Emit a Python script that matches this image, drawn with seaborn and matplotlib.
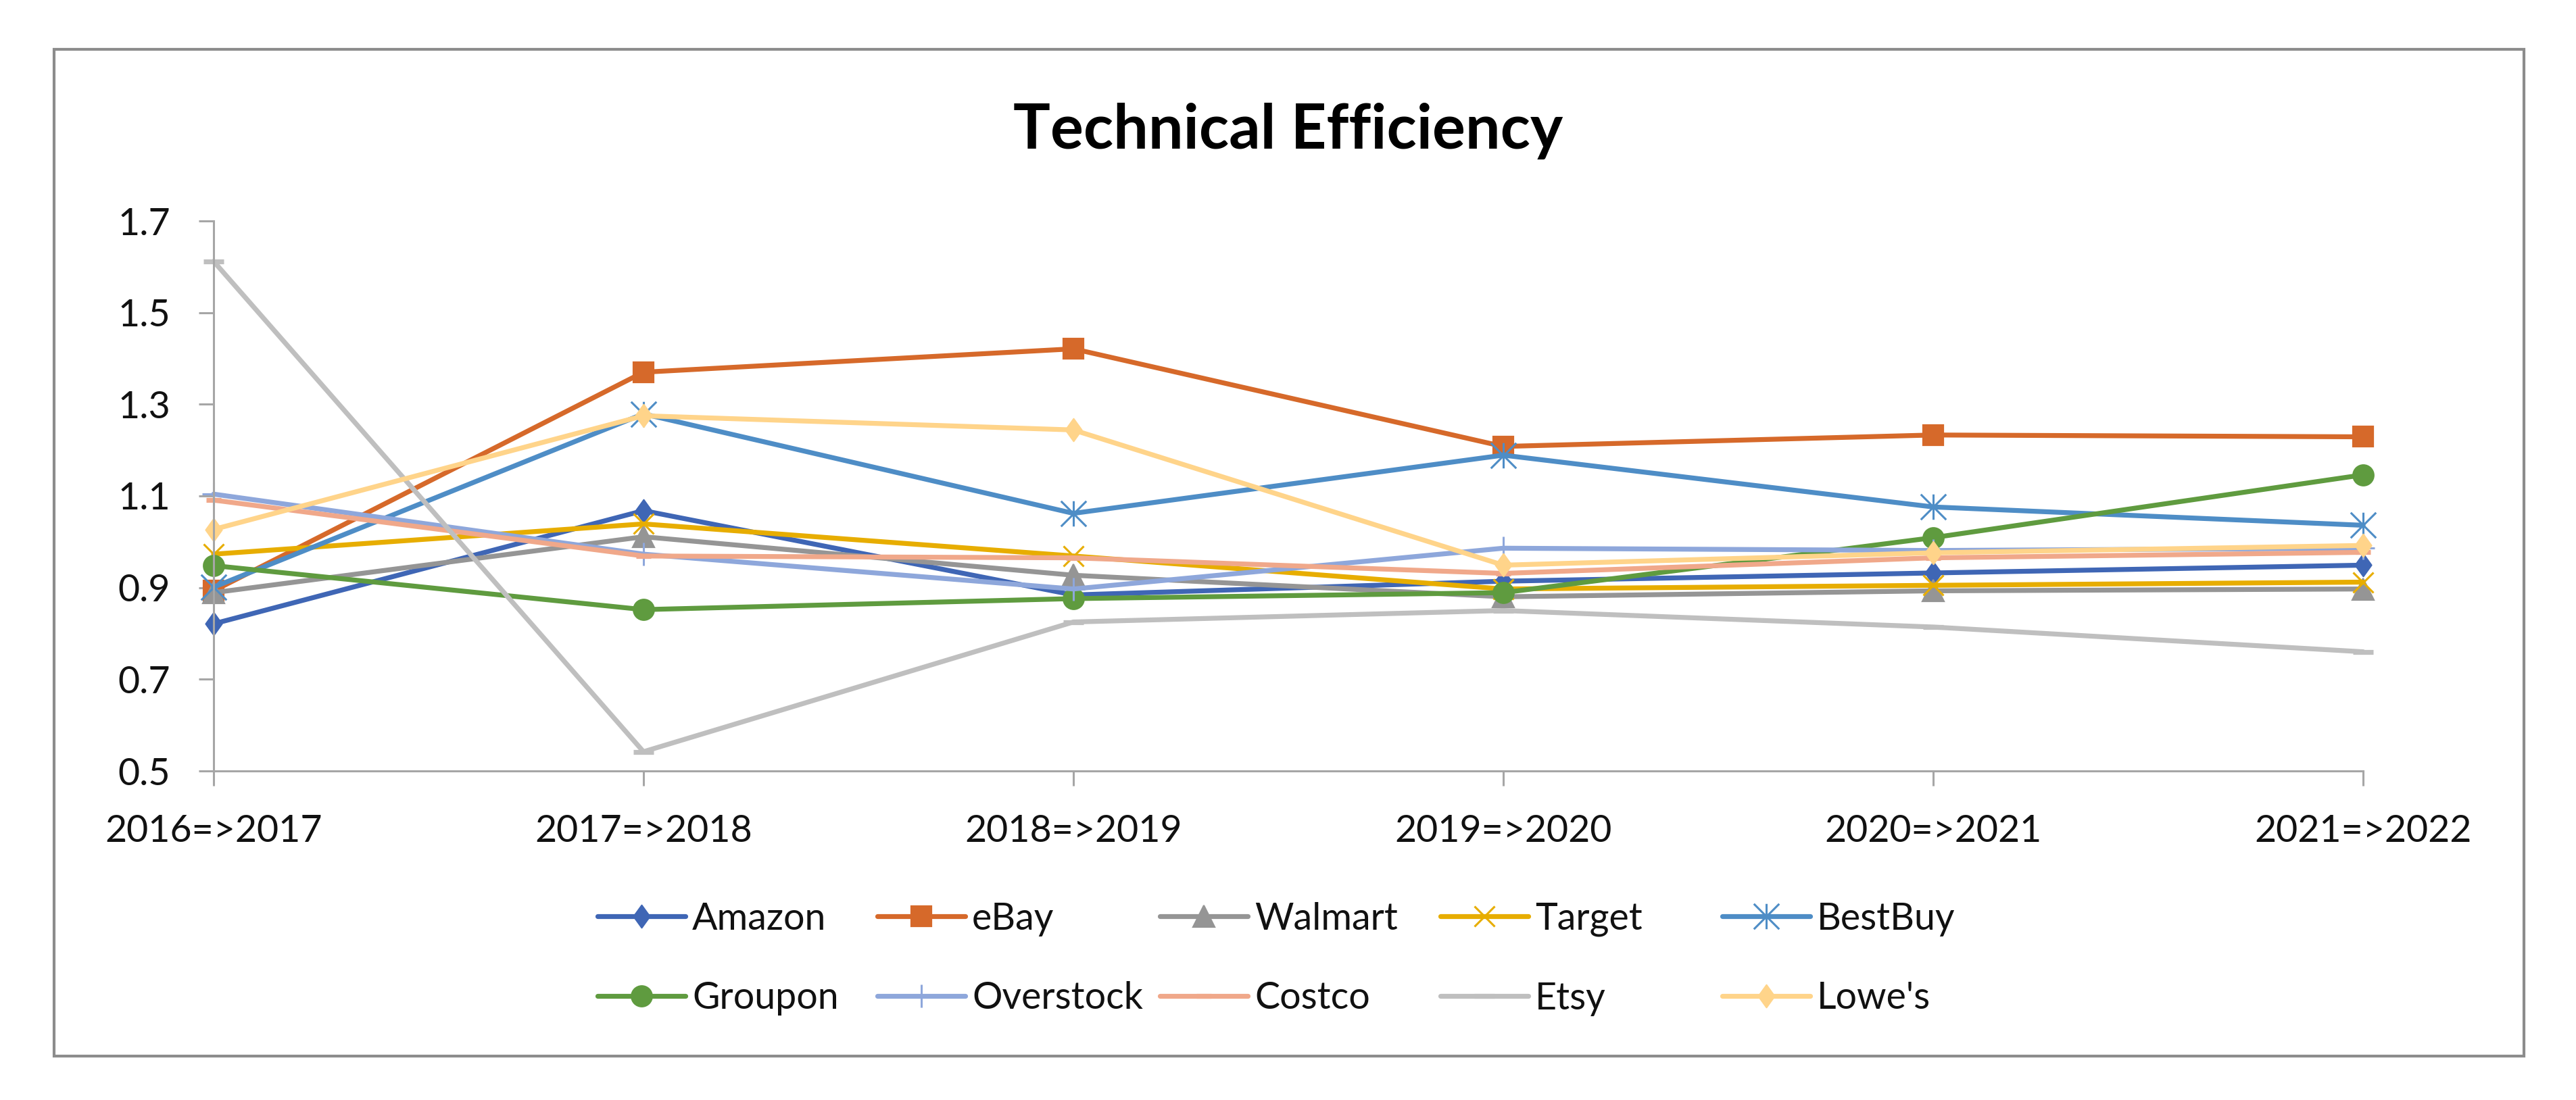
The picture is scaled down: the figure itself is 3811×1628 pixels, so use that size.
import numpy as np
import pandas as pd
import matplotlib
matplotlib.use("Agg")
import matplotlib.pyplot as plt
from matplotlib.path import Path
from matplotlib.patches import Rectangle
import seaborn as sns

# ---------------- data ----------------
periods = ["2016=>2017", "2017=>2018", "2018=>2019", "2019=>2020", "2020=>2021", "2021=>2022"]
companies = ["Amazon", "eBay", "Walmart", "Target", "BestBuy",
             "Groupon", "Overstock", "Costco", "Etsy", "Lowe's"]

amazon    = [0.821, 1.068, 0.884, 0.914, 0.932, 0.949]
ebay      = [0.893, 1.370, 1.421, 1.208, 1.233, 1.229]
walmart   = [0.889, 1.011, 0.927, 0.880, 0.893, 0.897]
target    = [0.973, 1.039, 0.969, 0.897, 0.905, 0.912]
bestbuy   = [0.901, 1.279, 1.062, 1.189, 1.076, 1.036]
groupon   = [0.948, 0.852, 0.876, 0.889, 1.009, 1.146]
overstock = [1.104, 0.973, 0.897, 0.986, 0.981, 0.986]
costco    = [1.091, 0.969, 0.965, 0.931, 0.965, 0.977]
etsy      = [1.612, 0.542, 0.825, 0.850, 0.814, 0.760]
lowes     = [1.027, 1.275, 1.244, 0.949, 0.976, 0.992]

series_values = [amazon, ebay, walmart, target, bestbuy,
                 groupon, overstock, costco, etsy, lowes]

y_ticks = [0.5, 0.7, 0.9, 1.1, 1.3, 1.5, 1.7]
title = "Technical Efficiency"

# ---------------- styles ----------------
colors = ["#3F66B5", "#D6692A", "#959595", "#E7AD00", "#4E8DC6",
          "#5F9B3F", "#8EA7DB", "#F0A88A", "#BFBFBF", "#FFD48A"]

diamond = Path([(0, 1), (0.72, 0), (0, -1), (-0.72, 0), (0, 1)],
               [Path.MOVETO, Path.LINETO, Path.LINETO, Path.LINETO, Path.CLOSEPOLY])
asterisk = Path([(-1, -1), (1, 1), (-1, 1), (1, -1), (0, -1), (0, 1)],
                [Path.MOVETO, Path.LINETO, Path.MOVETO, Path.LINETO, Path.MOVETO, Path.LINETO])

# (marker, size, edge width, filled)
marker_specs = [
    (diamond, 12, 0.8, True),
    ("s", 11, 0.8, True),
    ("^", 11.5, 0.8, True),
    ("x", 11, 1.1, False),
    (asterisk, 13.5, 1.1, False),
    ("o", 11, 0.8, True),
    ("+", 12.5, 1.1, False),
    ("_", 8, 2.6, False),
    ("_", 11, 2.6, False),
    (diamond, 12, 0.8, True),
]

W, H = 3812, 1628
sns.set_theme(style="white")
plt.rcParams["font.family"] = ["Lato", "DejaVu Sans"]

fig = plt.figure(figsize=(W / 200, H / 200), dpi=200)
ax = fig.add_axes([316 / W, 1 - 1141 / H, (3496 - 316) / W, (1141 - 327) / H])

handles = []
for name, vals, col, (mk, ms, mew, filled) in zip(companies, series_values, colors, marker_specs):
    df = pd.DataFrame({"period": periods, "value": vals})
    sns.lineplot(data=df, x="period", y="value", ax=ax, sort=False, errorbar=None,
                 color=col, linewidth=2.6, marker=mk, markersize=ms,
                 markeredgewidth=mew, markeredgecolor=col,
                 markerfacecolor=col if filled else "none",
                 clip_on=False, solid_joinstyle="round", solid_capstyle="round")
    line = ax.lines[-1]
    line.set_label(name)
    handles.append(line)

if ax.get_legend() is not None:
    ax.get_legend().remove()

ax.set_xlim(0, len(periods) - 1)
ax.set_ylim(y_ticks[0], y_ticks[-1])
ax.set_yticks(y_ticks)
ax.set_yticklabels([f"{t:.1f}" for t in y_ticks])
ax.set_xticks(range(len(periods)))
ax.set_xticklabels(periods)
ax.set_xlabel("")
ax.set_ylabel("")
ax.grid(False)

for s in ["top", "right"]:
    ax.spines[s].set_visible(False)
for s in ["left", "bottom"]:
    ax.spines[s].set_color("#a6a6a6")
    ax.spines[s].set_linewidth(1.1)

ax.tick_params(axis="both", direction="out", length=8, width=1.1, color="#a6a6a6",
               labelsize=20, labelcolor="#111111")
ax.tick_params(axis="x", pad=15)
ax.tick_params(axis="y", pad=15)
ax.tick_params(left=True, bottom=True)

# title
fig.text(0.5, 1 - 220 / H, title, ha="center", va="baseline",
         fontsize=33, fontweight="bold", color="#000000")

# legend: five columns of two rows
legend_col_x = [884, 1298, 1716, 2131, 2548]
legend_y = 1 - 1419 / H
for c, x0 in enumerate(legend_col_x):
    hs = [handles[c], handles[c + 5]]
    leg = fig.legend(handles=hs, labels=[h.get_label() for h in hs],
                     loc="center left", bbox_to_anchor=(x0 / W, legend_y),
                     frameon=False, borderpad=0, borderaxespad=0,
                     handlelength=2.34, handletextpad=0.18, labelspacing=1.2,
                     fontsize=20, numpoints=1)
    for t in leg.get_texts():
        t.set_color("#111111")

# outer chart border
fig.add_artist(Rectangle((80 / W, 1 - 1563 / H), (3734 - 80) / W, (1563 - 73) / H,
                         transform=fig.transFigure, fill=False,
                         edgecolor="#8c8c8c", linewidth=1.5))

fig.savefig("out.png", dpi=200, facecolor="white")
